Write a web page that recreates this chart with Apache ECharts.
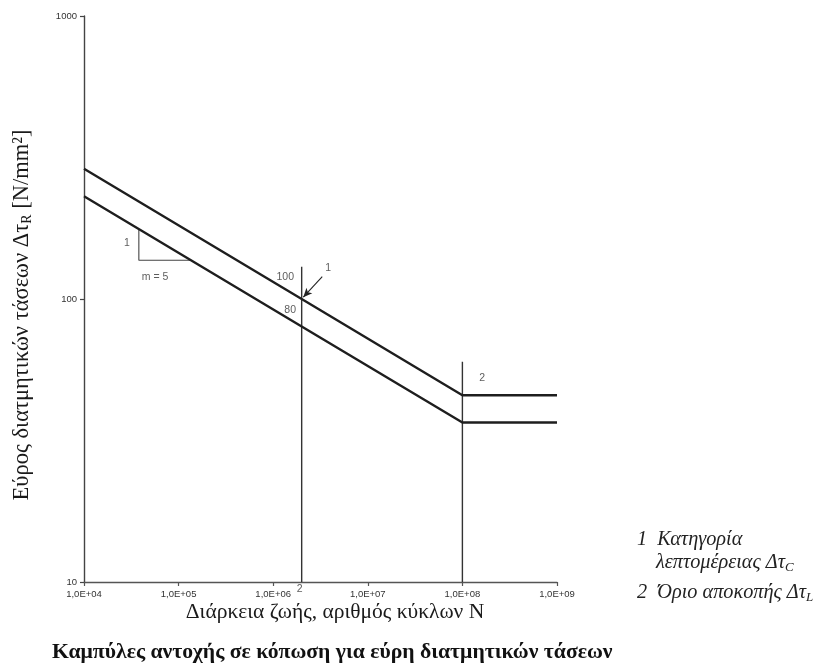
<!DOCTYPE html>
<html>
<head>
<meta charset="utf-8">
<script src="https://cdn.jsdelivr.net/npm/echarts@6/dist/echarts.min.js"></script>
<style>
  html, body { margin: 0; padding: 0; background: #fff; }
  #chart { width: 829px; height: 671px; }
</style>
</head>
<body>
<div id="chart"></div>
<script>
// Number of cycles N at the curve break points
const cycles = [1e4, 2e6, 1e8, 1e9];
// Shear stress range curves (N/mm²), detail categories 100 and 80, m = 5, cut-off at 1e8
const curve100 = [288.5, 100, 45.7, 45.7];
const curve80 = [230.8, 80, 36.6, 36.6];

// Reference verticals: N = 2·10^6 and cut-off N = 10^8
const refN = [2e6, 1e8];
const refTop = [130, 60];

// Slope triangle on the lower curve
const triN = [3.8e4, 3.8e4, 1.36e5];
const triS = [176.7, 137, 137];

// Annotation texts and their anchor points
const noteText = ['100', '80', '1', '2', '1', 'm = 5', '2'];
const noteN = [1.34e6, 1.51e6, 3.82e6, 1.62e8, 2.85e4, 5.64e4, 1.9e6];
const noteS = [119.7, 91.4, 129, 52.6, 157.8, 119.7, 9.4];

// Arrow pointing at the category reference point
const arrowFrom = [3.3e6, 120];
const arrowTo = [2.08e6, 101.5];

const yTicks = [10, 100, 1000];

const pair = (xs, ys) => xs.map((x, i) => [x, ys[i]]);

const chart = echarts.init(document.getElementById('chart'));

const lineStyleMain = { color: '#1e1e1e', width: 2.4 };
const serif = 'Liberation Serif';
const italicRich = (size, color) => ({
  t: { fontFamily: serif, fontStyle: 'italic', fontSize: size, fill: color },
  s: { fontFamily: serif, fontStyle: 'italic', fontSize: Math.round(size * 0.65), fill: color, padding: [Math.round(size * 0.45), 0, 0, 0] }
});

chart.setOption({
  animation: false,
  backgroundColor: '#ffffff',
  grid: { left: 84, right: 272, top: 16, bottom: 89 },
  xAxis: {
    type: 'log', logBase: 10, min: 1e4, max: 1e9,
    axisLine: { lineStyle: { color: '#555', width: 1.4 } },
    axisTick: { length: 4, lineStyle: { color: '#555', width: 1.2 } },
    minorTick: { show: false },
    splitLine: { show: false },
    axisLabel: {
      fontFamily: 'Liberation Sans', fontSize: 9.5, color: '#333', margin: 7,
      formatter: v => '1,0E+' + String(Math.round(Math.log10(v))).padStart(2, '0')
    }
  },
  yAxis: {
    type: 'log', logBase: 10, min: yTicks[0], max: yTicks[yTicks.length - 1],
    axisLine: { show: true, lineStyle: { color: '#444', width: 1.4 } },
    axisTick: { show: true, length: 4, lineStyle: { color: '#444', width: 1.2 } },
    splitLine: { show: false },
    axisLabel: {
      fontFamily: 'Liberation Sans', fontSize: 9.5, color: '#333', margin: 7,
      formatter: v => String(Math.round(v))
    }
  },
  title: {
    text: 'Καμπύλες αντοχής σε κόπωση για εύρη διατμητικών τάσεων',
    left: 52, top: 641, padding: 0,
    textStyle: { fontFamily: serif, fontWeight: 'bold', fontSize: 21.7, color: '#111' }
  },
  graphic: [
    {
      // x-axis title
      type: 'text', x: 335, y: 612,
      style: {
        text: 'Διάρκεια ζωής, αριθμός κύκλων N',
        fontFamily: serif, fontSize: 21.5, fill: '#1a1a1a',
        align: 'center', verticalAlign: 'middle'
      }
    },
    {
      // y-axis title
      type: 'text', x: 22, y: 315, rotation: Math.PI / 2,
      style: {
        text: '{t|Εύρος διατμητικών τάσεων Δτ}{s|R}{t| [N/mm²]}',
        align: 'center', verticalAlign: 'middle',
        rich: {
          t: { fontFamily: serif, fontSize: 22.5, fill: '#1a1a1a' },
          s: { fontFamily: serif, fontSize: 14, fill: '#1a1a1a', padding: [10, 0, 0, 0] }
        }
      }
    },
    {
      type: 'text', left: 637, top: 530,
      style: { text: '{t|1  Κατηγορία}', rich: italicRich(20.3, '#222') }
    },
    {
      type: 'text', left: 656, top: 553,
      style: { text: '{t|λεπτομέρειας Δτ}{s|C}', rich: italicRich(20.3, '#222') }
    },
    {
      type: 'text', left: 637, top: 583,
      style: { text: '{t|2  Όριο αποκοπής Δτ}{s|L}', rich: italicRich(20.3, '#222') }
    }
  ],
  series: [
    {
      type: 'line', data: pair(cycles, curve100), symbol: 'none',
      lineStyle: lineStyleMain, z: 3
    },
    {
      type: 'line', data: pair(cycles, curve80), symbol: 'none',
      lineStyle: lineStyleMain, z: 3
    },
    ...refN.map((n, i) => ({
      type: 'line', data: [[n, yTicks[0]], [n, refTop[i]]], symbol: 'none',
      lineStyle: { color: '#333', width: 1.4 }, z: 2
    })),
    {
      type: 'line', data: pair(triN, triS), symbol: 'none',
      lineStyle: { color: '#444', width: 1.1 }, z: 2
    },
    {
      type: 'line', data: [arrowFrom, arrowTo], symbol: 'none',
      lineStyle: { color: 'transparent', width: 0 },
      markLine: {
        silent: true, symbol: ['none', 'arrow'], symbolSize: [6, 9],
        label: { show: false },
        lineStyle: { color: '#222', width: 1.1, type: 'solid' },
        data: [[{ coord: arrowFrom }, { coord: arrowTo }]]
      }
    },
    {
      type: 'scatter', symbolSize: 0, clip: false, silent: true,
      data: noteN.map((n, i) => ({ value: [n, noteS[i]], name: noteText[i] })),
      label: {
        show: true, position: 'inside', formatter: p => p.name,
        fontFamily: 'Liberation Sans', fontSize: 10.5, color: '#333'
      }
    }
  ]
});
</script>
</body>
</html>
